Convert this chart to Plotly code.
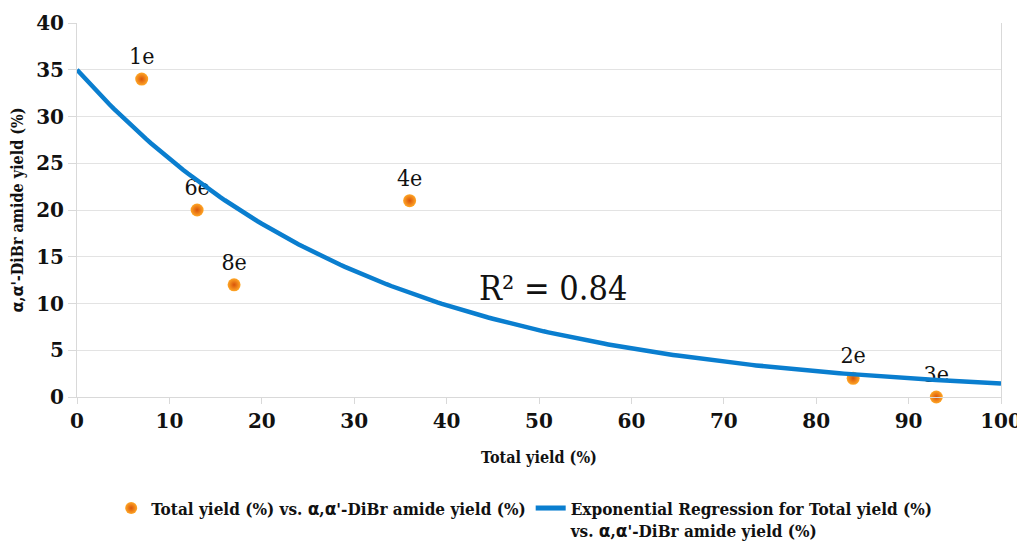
import numpy as np
import plotly.graph_objects as go

# Data
labels = ["1e", "6e", "8e", "4e", "2e", "3e"]
total_yield = [7, 13, 17, 36, 84, 93]
dibr_yield = [34, 20, 12, 21, 2, 0]

# Exponential regression parameters (y = a * exp(-b x))
fit_a = 35.0
fit_b = 0.0318
r2_text = "R² = 0.84"

x_ticks = [0, 10, 20, 30, 40, 50, 60, 70, 80, 90, 100]
y_ticks = [0, 5, 10, 15, 20, 25, 30, 35, 40]

SERIF = "'DejaVu Serif', 'Liberation Serif', 'Noto Serif', serif"
SERIF_C = "'DejaVu Serif Condensed', 'DejaVu Serif', serif"
ALPHA = '<span style="font-family:DejaVu Sans">α</span>'
ylabel = f"{ALPHA},{ALPHA}'-DiBr amide yield (%)"
series1 = f"Total yield (%) vs. {ALPHA},{ALPHA}'-DiBr amide yield (%)"
series2 = f"Exponential Regression for Total yield (%)<br>vs. {ALPHA},{ALPHA}'-DiBr amide yield (%)"

fx = np.linspace(0, 100, 201)
fy = fit_a * np.exp(-fit_b * fx)

fig = go.Figure()
fig.add_trace(go.Scatter(
    x=total_yield, y=dibr_yield, mode="markers+text", text=labels,
    textposition="top center",
    textfont=dict(family=SERIF_C, size=23, color="#111"),
    marker=dict(size=13, color="#ffa726",
                gradient=dict(type="radial", color="#d9540a"),
                line=dict(width=0)),
    name=series1, cliponaxis=False,
))
fig.add_trace(go.Scatter(
    x=fx, y=fy, mode="lines", line=dict(color="#0a7ecf", width=4.5),
    name=series2,
))

fig.add_annotation(x=51.5, y=11.7, text=r2_text, showarrow=False,
                   font=dict(family=SERIF_C, size=34, color="#111"))

fig.update_layout(
    width=1017, height=537,
    margin=dict(l=69, r=24, t=15, b=148, autoexpand=False),
    paper_bgcolor="white", plot_bgcolor="white",
    font=dict(family=SERIF, color="#111"),
    showlegend=True,
    legend=dict(orientation="h", x=0.037, xanchor="left", y=-0.25, yanchor="top",
                font=dict(family=SERIF_C, size=17, color="#111", weight="bold"),
                itemsizing="constant", valign="top"),
    xaxis=dict(range=[0, 100], tickvals=x_ticks, showgrid=False, zeroline=False,
               automargin=False,
               showline=True, linecolor="#d9d9d9", linewidth=1,
               ticks="outside", ticklen=6, tickcolor="#d9d9d9",
               tickfont=dict(family=SERIF, size=20, weight="bold"),
               title=dict(text="<b>Total yield (%)</b>", font=dict(family=SERIF_C, size=16),
                          standoff=19)),
    yaxis=dict(range=[0, 40], tickvals=y_ticks, showgrid=True, gridcolor="#e3e3e3",
               automargin=False,
               zeroline=False, showline=True, mirror=True, linecolor="#d9d9d9",
               ticks="outside", ticklen=8, tickcolor="#d9d9d9",
               tickfont=dict(family=SERIF, size=20, weight="bold"),
               title=dict(text=f"<b>{ylabel}</b>", font=dict(family=SERIF_C, size=16),
                          standoff=8)),
)

fig.write_html("out.html")
